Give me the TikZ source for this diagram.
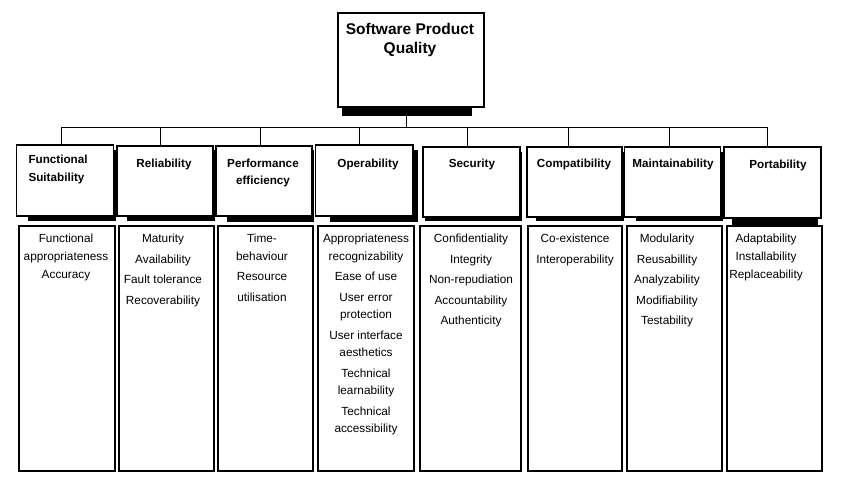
\documentclass[tikz,border=0pt]{standalone}
\usepackage{fontspec}
\setmainfont{Liberation Sans}
\begin{document}
\begin{tikzpicture}[x=1pt,y=-1pt,
  box/.style={draw=black, line width=1.1pt, fill=white, inner sep=0pt, outer sep=0pt},
  htext/.style={font=\bfseries\fontsize{11.7}{17.5}\selectfont, align=center, inner sep=0pt, anchor=north},
  ltext/.style={font=\fontsize{11.8}{17.5}\selectfont, align=center, inner sep=0pt, anchor=north},
  conn/.style={draw=black, line width=0.9pt},
  shadow/.style={fill=black}]
\useasboundingbox (0,0) rectangle (843,482);
\fill[white] (0,0) rectangle (843,482);

% ---- title
\fill[shadow] (342,107) rectangle (472,115.5);
\node[box, minimum width=146pt, minimum height=94pt] (title) at (411,60) {};
\node[font=\bfseries\fontsize{15.5}{19}\selectfont, align=center, inner sep=0pt, anchor=north] (ttext) at (410,23.5) {Software Product\\Quality};

% ---- header shadows
\fill[shadow] (28,215.5) rectangle (115.5,221);
\fill[shadow] (113,150) rectangle (115.5,221);
\fill[shadow] (127,215.5) rectangle (215,221);
\fill[shadow] (212.5,150) rectangle (215,221);
\fill[shadow] (227,215.5) rectangle (314,221.5);
\fill[shadow] (311.5,150) rectangle (314,221.5);
\fill[shadow] (330,215.5) rectangle (417.5,221.5);
\fill[shadow] (412.5,150) rectangle (417.5,221.5);
\fill[shadow] (425,216.5) rectangle (522.3,221);
\fill[shadow] (519.5,152) rectangle (522.3,221);
\fill[shadow] (536,216.5) rectangle (623.5,221);
\fill[shadow] (621.5,152) rectangle (623.5,221);
\fill[shadow] (636,216.5) rectangle (723,221);
\fill[shadow] (720.5,152) rectangle (723,221);
\fill[shadow] (731.5,217.5) rectangle (818,226);

% ---- header boxes
\node[box, minimum width=97pt, minimum height=71pt] (h1) at (65,180.5) {};
\node[box, minimum width=96pt, minimum height=70pt] (h2) at (165,181) {};
\node[box, minimum width=96pt, minimum height=70pt] (h3) at (264,181) {};
\node[box, minimum width=97.5pt, minimum height=71pt] (h4) at (364.25,180.5) {};
\node[box, minimum width=97pt, minimum height=70pt] (h5) at (471.5,182) {};
\node[box, minimum width=95pt, minimum height=70pt] (h6) at (574.5,182) {};
\node[box, minimum width=96.5pt, minimum height=70pt] (h7) at (672.5,182) {};
\node[box, minimum width=97pt, minimum height=71pt] (h8) at (772.5,182.5) {};

% ---- header texts
\node[htext, anchor=north west, align=left, font=\bfseries\fontsize{11.7}{18.3}\selectfont] (t1) at (28.3,155) {Functional\\Suitability};
\node[htext] (t2) at (164,158.5) {Reliability};
\node[htext] (t3) at (263,158.5) {Performance\\efficiency};
\node[htext] (t4) at (368,158.5) {Operability};
\node[htext] (t5) at (472,158.5) {Security};
\node[htext] (t6) at (574,158.5) {Compatibility};
\node[htext] (t7) at (673,158.5) {Maintainability};
\node[htext] (t8) at (778,159.5) {Portability};

% ---- list boxes
\node[box, minimum width=96pt, minimum height=245pt] (l1) at (67,348.5) {};
\node[box, minimum width=95pt, minimum height=245pt] (l2) at (166.5,348.5) {};
\node[box, minimum width=95pt, minimum height=245pt] (l3) at (265.5,348.5) {};
\node[box, minimum width=96pt, minimum height=245pt] (l4) at (366,348.5) {};
\node[box, minimum width=101pt, minimum height=245pt] (l5) at (470.5,348.5) {};
\node[box, minimum width=94pt, minimum height=245pt] (l6) at (575,348.5) {};
\node[box, minimum width=95pt, minimum height=245pt] (l7) at (674.5,348.5) {};
\node[box, minimum width=95pt, minimum height=245pt] (l8) at (774.5,348.5) {};

% ---- list texts
\node[ltext] (x1) at (66,234) {Functional\\[0.5pt]appropriateness\\[0.5pt]Accuracy};
\node[ltext] (x2) at (163,234) {Maturity\\[3pt]Availability\\[3pt]Fault tolerance\\[3pt]Recoverability};
\node[ltext] (x3) at (262,234) {Time-\\behaviour\\[3pt]Resource\\[3pt]utilisation};
\node[ltext] (x4) at (366,234) {Appropriateness\\recognizability\\[3pt]Ease of use\\[3pt]User error\\protection\\[3pt]User interface\\aesthetics\\[3pt]Technical\\learnability\\[3pt]Technical\\accessibility};
\node[ltext] (x5) at (471,234) {Confidentiality\\[3pt]Integrity\\[3pt]Non-repudiation\\[3pt]Accountability\\[3pt]Authenticity};
\node[ltext] (x6) at (575,234) {Co-existence\\[3pt]Interoperability};
\node[ltext] (x7) at (667,234) {Modularity\\[3pt]Reusabillity\\[3pt]Analyzability\\[3pt]Modifiability\\[3pt]Testability};
\node[ltext] (x8) at (766,234) {Adaptability\\[0.5pt]Installability\\[0.5pt]Replaceability};

% ---- connectors
\coordinate (bt) at (406,127);
\coordinate (b1) at (61,127);
\coordinate (b2) at (160,127);
\coordinate (b3) at (260,127);
\coordinate (b4) at (359,127);
\coordinate (b5) at (467,127);
\coordinate (b6) at (568,127);
\coordinate (b7) at (669,127);
\coordinate (b8) at (767,127);
\draw[conn] (title.south -| bt) -- (bt);
\draw[conn] (b1) -- (b8);
\draw[conn] (b1) -- (b1 |- h1.north);
\draw[conn] (b2) -- (b2 |- h2.north);
\draw[conn] (b3) -- (b3 |- h3.north);
\draw[conn] (b4) -- (b4 |- h4.north);
\draw[conn] (b5) -- (b5 |- h5.north);
\draw[conn] (b6) -- (b6 |- h6.north);
\draw[conn] (b7) -- (b7 |- h7.north);
\draw[conn] (b8) -- (b8 |- h8.north);
\end{tikzpicture}
\end{document}
